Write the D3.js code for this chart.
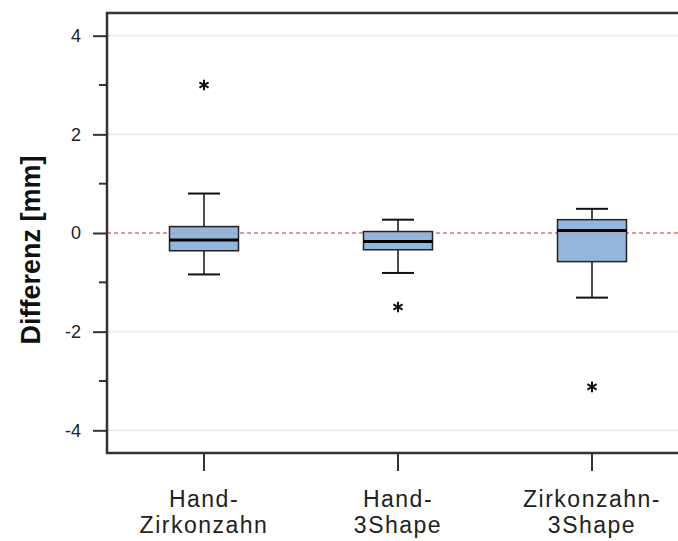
<!DOCTYPE html>
<html>
<head>
<meta charset="utf-8">
<script src="https://cdn.jsdelivr.net/npm/d3@7"></script>
<style>
  body { margin: 0; background: #fff; }
  text { font-family: "Liberation Sans", Arial, sans-serif; }
</style>
</head>
<body>
<script>
// data
var groups = ["Hand-Zirkonzahn", "Hand-3Shape", "Zirkonzahn-3Shape"];
var labelLines = [["Hand-", "Zirkonzahn"], ["Hand-", "3Shape"], ["Zirkonzahn-", "3Shape"]];
var whiskerLow = [-0.84, -0.81, -1.31];
var q1 = [-0.36, -0.34, -0.58];
var median = [-0.14, -0.17, 0.05];
var q3 = [0.13, 0.03, 0.27];
var whiskerHigh = [0.80, 0.27, 0.49];
var outliers = [[3.0], [-1.5], [-3.12]];
var majorTicks = [-4, -2, 0, 2, 4];
var minorTicks = [-3, -1, 1, 3];

var W = 678, H = 541;
var plotLeft = 107, plotTop = 13, plotBottom = 453, plotRight = 689;

var svg = d3.select("body").append("svg")
    .attr("width", W)
    .attr("height", H);

var x = d3.scaleBand().domain(groups).range([plotLeft, plotRight]);
var y = d3.scaleLinear().domain([-4.46, 4.46]).range([plotBottom, plotTop]);

// light grid
svg.append("g").selectAll("line")
    .data(majorTicks.filter(function(d){ return d != 0; }))
    .enter().append("line")
    .attr("x1", plotLeft).attr("x2", W)
    .attr("y1", function(d){ return y(d); })
    .attr("y2", function(d){ return y(d); })
    .style("stroke", "#ececec")
    .style("stroke-width", 2);

// reference line at zero
svg.append("line")
    .attr("x1", plotLeft).attr("x2", W)
    .attr("y1", y(0)).attr("y2", y(0))
    .style("stroke", "#e07070")
    .style("stroke-width", 1.5)
    .style("stroke-dasharray", "4,3");

// boxes
var bw = 69, cw = 32;
var boxes = svg.append("g").selectAll("g")
    .data(groups).enter().append("g")
    .attr("transform", function(d){ return "translate(" + (x(d) + x.bandwidth()/2) + ",0)"; });

boxes.append("line")
    .attr("x1", 0).attr("x2", 0)
    .attr("y1", function(d, i){ return y(whiskerHigh[i]); })
    .attr("y2", function(d, i){ return y(whiskerLow[i]); })
    .style("stroke", "#111").style("stroke-width", 1.5);

boxes.selectAll(".cap")
    .data(function(d, i){ return [whiskerLow[i], whiskerHigh[i]]; })
    .enter().append("line")
    .attr("x1", -cw/2).attr("x2", cw/2)
    .attr("y1", function(v){ return y(v); })
    .attr("y2", function(v){ return y(v); })
    .style("stroke", "#111").style("stroke-width", 2);

boxes.append("rect")
    .attr("x", -bw/2).attr("width", bw)
    .attr("y", function(d, i){ return y(q3[i]); })
    .attr("height", function(d, i){ return y(q1[i]) - y(q3[i]); })
    .style("fill", "#93b6dc")
    .style("stroke", "#222")
    .style("stroke-width", 1.5);

// the zero line shows through the box
boxes.append("line")
    .attr("x1", -bw/2 + 1).attr("x2", bw/2 - 1)
    .attr("y1", y(0)).attr("y2", y(0))
    .style("stroke", "#d88a9a")
    .style("stroke-width", 1.2)
    .style("stroke-dasharray", "4,3")
    .style("opacity", function(d, i){ return (q1[i] < 0 && q3[i] > 0) ? 0.8 : 0; });

boxes.append("line")
    .attr("x1", -bw/2).attr("x2", bw/2)
    .attr("y1", function(d, i){ return y(median[i]); })
    .attr("y2", function(d, i){ return y(median[i]); })
    .style("stroke", "#000").style("stroke-width", 3);

var star = d3.symbol().type(d3.symbolAsterisk).size(80);
boxes.selectAll(".out")
    .data(function(d, i){ return outliers[i]; })
    .enter().append("path")
    .attr("d", star)
    .attr("transform", function(v){ return "translate(0," + y(v) + ")"; })
    .style("fill", "none")
    .style("stroke", "#111")
    .style("stroke-width", 2);

// y axis
var yAxis = svg.append("g")
    .attr("transform", "translate(" + plotLeft + ",0)")
    .call(d3.axisLeft(y).tickValues(majorTicks).tickSize(14).tickPadding(12).tickFormat(d3.format("d")));
yAxis.select(".domain").remove();
yAxis.selectAll(".tick line").style("stroke", "#333").style("stroke-width", 2);
yAxis.selectAll(".tick text").style("font-size", "18px").style("fill", "#222")
    .text(function(d){ return d < 0 ? "-" + Math.abs(d) : d; });

svg.append("g").selectAll("line")
    .data(minorTicks).enter().append("line")
    .attr("x1", plotLeft - 8).attr("x2", plotLeft)
    .attr("y1", function(d){ return y(d); })
    .attr("y2", function(d){ return y(d); })
    .style("stroke", "#333").style("stroke-width", 2);

// x axis
var xAxis = svg.append("g")
    .attr("transform", "translate(0," + plotBottom + ")")
    .call(d3.axisBottom(x).tickSize(18).tickFormat(""));
xAxis.select(".domain").remove();
xAxis.selectAll(".tick line").style("stroke", "#333").style("stroke-width", 2);

xAxis.selectAll(".tick").append("text")
    .style("font-size", "23px")
    .style("fill", "#222")
    .style("letter-spacing", "1.5px")
    .attr("text-anchor", "middle")
    .selectAll("tspan")
    .data(function(d){ return labelLines[groups.indexOf(d)]; })
    .enter().append("tspan")
    .attr("x", 0)
    .attr("y", function(d, i){ return 54 + i * 26; })
    .text(function(d){ return d; });

// frame
svg.append("path")
    .attr("d", "M" + W + "," + plotTop + "H" + plotLeft + "V" + plotBottom + "H" + W)
    .style("fill", "none")
    .style("stroke", "#333")
    .style("stroke-width", 2.5);

svg.append("text")
    .attr("transform", "translate(40," + 250 + ") rotate(-90)")
    .attr("text-anchor", "middle")
    .style("font-size", "27px")
    .style("font-weight", "bold")
    .style("fill", "#111")
    .text("Differenz [mm]");
</script>
</body>
</html>
